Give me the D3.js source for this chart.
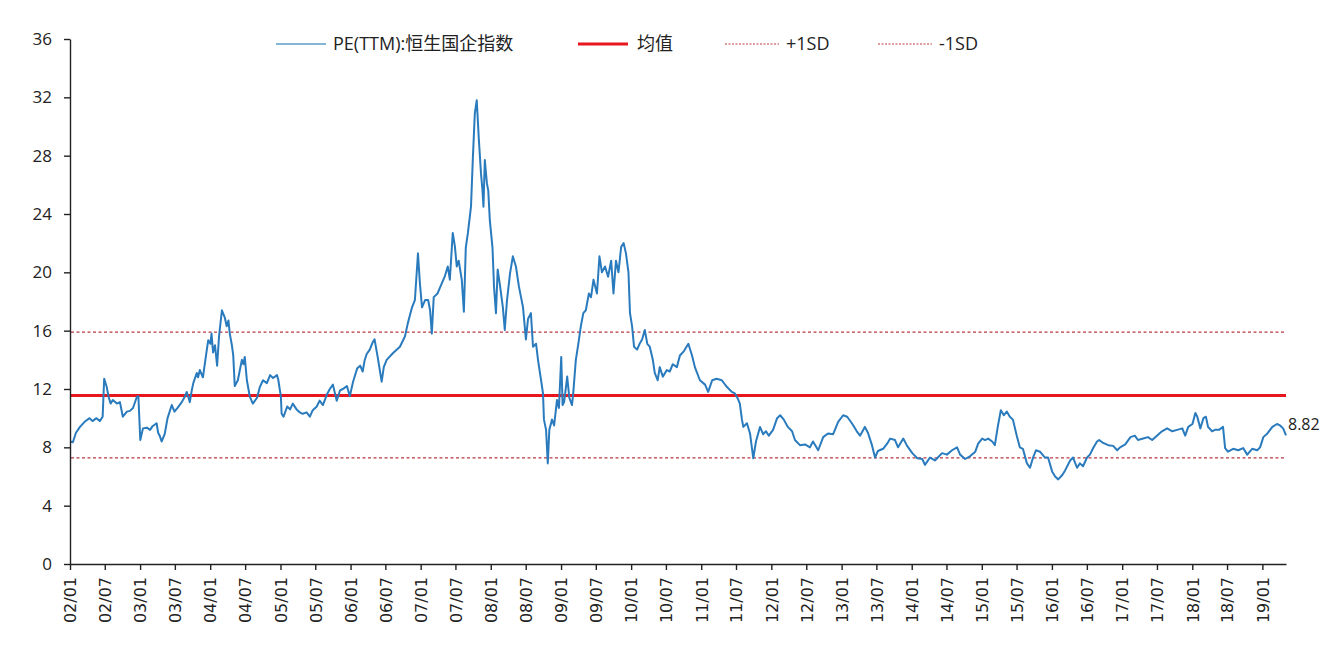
<!DOCTYPE html>
<html>
<head>
<meta charset="utf-8">
<script src="https://cdn.jsdelivr.net/npm/d3@7/dist/d3.min.js"></script>
<style>
  html, body { margin: 0; padding: 0; background: #fff; }
  svg { display: block; }
  text { font-family: "Open Sans", "Noto Sans CJK SC", sans-serif; fill: #222; }
  .x-tick text { font-family: "DejaVu Sans", sans-serif; }
</style>
</head>
<body>
<div id="chart"></div>
<script>
// PE(TTM) of the Hang Seng China Enterprises Index, 2002-01 .. 2019-05,
// read off the reference picture (one point per ~2 weeks, more at spikes).
const dates = [
  // 2002
  "2002-01-02","2002-01-16","2002-02-01","2002-02-22","2002-03-18","2002-04-13","2002-04-28","2002-05-19",
  "2002-06-05","2002-06-20","2002-06-28","2002-07-11","2002-07-21","2002-08-01","2002-08-12","2002-09-02",
  "2002-09-18","2002-10-03","2002-10-24","2002-11-09","2002-11-25","2002-12-15","2002-12-23",
  // 2003
  "2003-01-02","2003-01-16","2003-02-06","2003-02-22","2003-03-07","2003-03-28","2003-04-05","2003-04-13",
  "2003-04-23","2003-05-09","2003-05-24","2003-06-15","2003-06-29","2003-07-15","2003-08-06","2003-08-21",
  "2003-09-01","2003-09-09","2003-09-17","2003-09-27","2003-10-05","2003-10-23","2003-10-30","2003-11-08",
  "2003-11-24","2003-12-14","2003-12-22",
  // 2004
  "2004-01-02","2004-01-08","2004-01-16","2004-01-26","2004-02-06","2004-02-16","2004-03-02","2004-03-17",
  "2004-03-27","2004-04-05","2004-04-12","2004-04-23","2004-04-30","2004-05-08","2004-05-24","2004-06-14",
  "2004-06-22","2004-06-29","2004-07-10","2004-07-25","2004-08-10","2004-09-01","2004-09-16","2004-10-02",
  "2004-10-22","2004-11-08","2004-11-23","2004-12-14","2004-12-21",
  // 2005
  "2005-01-03","2005-01-07","2005-01-17","2005-02-05","2005-02-20","2005-03-06","2005-03-26","2005-04-11",
  "2005-04-27","2005-05-17","2005-06-03","2005-06-18","2005-07-09","2005-07-24","2005-08-10","2005-08-30",
  "2005-09-15","2005-10-01","2005-10-21","2005-11-07","2005-11-22","2005-12-13","2005-12-28",
  // 2006
  "2006-01-14","2006-02-04","2006-02-20","2006-03-05","2006-03-15","2006-03-26","2006-04-11","2006-04-26",
  "2006-05-06","2006-05-22","2006-06-12","2006-06-23","2006-07-08","2006-08-09","2006-09-15","2006-10-11",
  "2006-10-26","2006-11-17","2006-12-02","2006-12-18","2006-12-28",
  // 2007
  "2007-01-08","2007-01-24","2007-02-09","2007-02-19","2007-02-28","2007-03-10","2007-03-30","2007-04-21",
  "2007-05-06","2007-05-22","2007-06-02","2007-06-17","2007-06-28","2007-07-08","2007-07-18","2007-08-03",
  "2007-08-14","2007-08-24","2007-09-04","2007-09-20","2007-09-30","2007-10-10","2007-10-20","2007-10-31",
  "2007-11-11","2007-11-19","2007-11-24","2007-12-01","2007-12-12","2007-12-19","2007-12-27",
  // 2008
  "2008-01-10","2008-01-18","2008-01-28","2008-02-06","2008-02-19","2008-03-04","2008-03-14","2008-03-25",
  "2008-04-10","2008-04-25","2008-05-11","2008-05-27","2008-06-17","2008-07-02","2008-07-13","2008-07-28",
  "2008-08-08","2008-08-24","2008-09-03","2008-09-19","2008-09-29","2008-10-04","2008-10-15","2008-10-24",
  "2008-11-01","2008-11-15","2008-11-26","2008-12-11","2008-12-21",
  // 2009
  "2009-01-02","2009-01-09","2009-01-17","2009-02-02","2009-02-13","2009-02-27","2009-03-06","2009-03-19",
  "2009-04-01","2009-04-14","2009-04-27","2009-05-10","2009-05-26","2009-06-06","2009-06-19","2009-07-07",
  "2009-07-20","2009-08-02","2009-08-18","2009-09-03","2009-09-19","2009-10-01","2009-10-14","2009-10-27",
  "2009-11-10","2009-11-23","2009-12-05","2009-12-18","2009-12-26",
  // 2010
  "2010-01-06","2010-01-16","2010-02-01","2010-02-14","2010-02-27","2010-03-13","2010-03-26","2010-04-08",
  "2010-04-24","2010-05-04","2010-05-19","2010-05-30","2010-06-15","2010-07-06","2010-07-21","2010-08-06",
  "2010-08-27","2010-09-12","2010-10-03","2010-10-26","2010-11-14","2010-11-29","2010-12-25",
  // 2011
  "2011-01-21","2011-02-06","2011-02-27","2011-03-22","2011-04-18","2011-05-14","2011-06-09","2011-06-25",
  "2011-07-10","2011-07-21","2011-08-01","2011-08-08","2011-08-27","2011-09-12","2011-09-29","2011-10-13",
  "2011-11-03","2011-11-19","2011-12-04","2011-12-19",
  // 2012
  "2012-01-10","2012-01-31","2012-02-16","2012-03-06","2012-03-27","2012-04-18","2012-05-03","2012-05-29",
  "2012-06-24","2012-07-20","2012-08-05","2012-09-01","2012-09-27","2012-10-22","2012-11-18","2012-12-14",
  // 2013
  "2013-01-09","2013-01-30","2013-02-26","2013-03-21","2013-04-07","2013-05-02","2013-05-18","2013-06-08",
  "2013-06-24","2013-07-09","2013-08-05","2013-08-26","2013-09-11","2013-10-06","2013-10-22","2013-11-18",
  "2013-12-08",
  // 2014
  "2014-01-04","2014-01-30","2014-02-25","2014-03-11","2014-04-06","2014-05-02","2014-06-08","2014-07-03",
  "2014-07-30","2014-08-25","2014-09-10","2014-10-06","2014-11-02","2014-11-28","2014-12-13",
  // 2015
  "2015-01-03","2015-01-18","2015-02-03","2015-02-24","2015-03-10","2015-03-25","2015-04-10","2015-04-26",
  "2015-05-11","2015-05-27","2015-06-12","2015-07-02","2015-07-18","2015-08-03","2015-08-24","2015-09-09",
  "2015-09-25","2015-10-10","2015-10-31","2015-11-26","2015-12-12",
  // 2016
  "2016-01-02","2016-01-18","2016-02-03","2016-02-24","2016-03-09","2016-04-05","2016-04-20","2016-05-11",
  "2016-05-26","2016-06-11","2016-07-02","2016-07-17","2016-08-03","2016-08-23","2016-09-03","2016-09-24",
  "2016-10-20","2016-11-15","2016-12-06","2016-12-21",
  // 2017
  "2017-01-17","2017-02-13","2017-03-08","2017-03-24","2017-04-20","2017-05-15","2017-06-06","2017-07-01",
  "2017-07-27","2017-08-23","2017-09-19","2017-10-14","2017-11-10","2017-11-25","2017-12-11",
  // 2018
  "2018-01-02","2018-01-17","2018-01-27","2018-02-12","2018-02-28","2018-03-13","2018-03-24","2018-04-14",
  "2018-04-29","2018-05-20","2018-06-10","2018-06-21","2018-07-06","2018-08-02","2018-08-28","2018-09-23",
  "2018-10-14","2018-11-09","2018-12-05","2018-12-20",
  // 2019
  "2019-01-06","2019-01-27","2019-02-22","2019-03-18","2019-04-03","2019-04-19","2019-05-04"
];

const pe = [
  // 2002
  8.4, 8.35, 9.0, 9.4, 9.75, 10.0, 9.8, 10.0,
  9.8, 10.1, 12.7, 12.15, 11.45, 11.0, 11.25, 11.0,
  11.1, 10.1, 10.45, 10.5, 10.7, 11.45, 11.5,
  // 2003
  8.5, 9.3, 9.35, 9.2, 9.45, 9.65, 9.0, 8.8,
  8.4, 8.9, 10.0, 10.9, 10.45, 10.7, 11.1, 11.45,
  11.8, 11.45, 11.1, 11.9, 12.4, 13.1, 12.8, 13.3,
  12.8, 14.65, 15.35,
  // 2004
  15.1, 15.8, 14.5, 15.0, 13.6, 15.6, 17.4, 16.9,
  16.3, 16.7, 15.8, 15.0, 14.3, 12.2, 12.6, 14.0,
  13.7, 14.2, 12.6, 11.5, 11.0, 11.4, 12.15, 12.6,
  12.4, 12.95, 12.75, 12.95, 12.6,
  // 2005
  11.5, 10.3, 10.1, 10.8, 10.6, 11.0, 10.6, 10.4,
  10.3, 10.4, 10.1, 10.55, 10.8, 11.2, 10.9, 11.6,
  12.0, 12.3, 11.2, 11.9, 12.0, 12.2, 11.5,
  // 2006
  12.5, 13.4, 13.6, 13.2, 13.95, 14.4, 14.7, 15.2,
  15.4, 14.2, 12.5, 13.5, 14.0, 14.45, 14.9, 15.6,
  16.5, 17.6, 18.1, 21.3, 19.25,
  // 2007
  17.6, 18.1, 18.1, 17.4, 15.8, 18.3, 18.55, 19.25,
  19.7, 20.4, 19.5, 22.7, 21.8, 20.4, 20.8, 19.5,
  17.3, 21.7, 22.7, 24.5, 27.9, 30.9, 31.8, 29.1,
  26.8, 25.6, 24.5, 27.7, 26.1, 25.6, 23.6,
  // 2008
  21.7, 19.0, 17.2, 20.2, 19.0, 17.6, 16.05, 18.0,
  19.9, 21.1, 20.4, 19.0, 17.6, 15.4, 16.8, 17.2,
  14.9, 15.1, 14.0, 12.6, 11.7, 9.9, 9.2, 6.9,
  9.2, 9.9, 9.5, 11.25, 10.7,
  // 2009
  14.2, 10.9, 11.1, 12.85, 11.4, 10.9, 11.8, 14.0,
  15.1, 16.3, 17.2, 17.4, 18.55, 18.3, 19.5, 18.55,
  21.1, 20.0, 20.4, 19.7, 20.8, 18.55, 20.8, 20.0,
  21.75, 22.0, 21.3, 20.0, 17.2,
  // 2010
  16.3, 14.9, 14.7, 15.1, 15.4, 16.05, 15.1, 14.9,
  14.0, 13.1, 12.6, 13.5, 12.85, 13.3, 13.2, 13.7,
  13.5, 14.3, 14.6, 15.1, 14.3, 13.5, 12.6,
  // 2011
  12.3, 11.8, 12.6, 12.7, 12.6, 12.15, 11.8, 11.7,
  11.35, 11.0, 9.9, 9.4, 9.65, 8.95, 7.25, 8.4,
  9.4, 8.9, 9.1, 8.8,
  // 2012
  9.2, 10.0, 10.2, 9.9, 9.4, 9.1, 8.5, 8.15,
  8.2, 8.0, 8.4, 7.8, 8.7, 8.95, 8.9, 9.75,
  // 2013
  10.2, 10.1, 9.6, 9.1, 8.8, 9.4, 9.0, 8.15,
  7.3, 7.75, 7.9, 8.25, 8.6, 8.5, 8.0, 8.6,
  8.1,
  // 2014
  7.6, 7.25, 7.2, 6.8, 7.3, 7.1, 7.6, 7.5,
  7.8, 8.0, 7.5, 7.2, 7.4, 7.7, 8.25,
  // 2015
  8.6, 8.5, 8.6, 8.4, 8.15, 9.4, 10.55, 10.2,
  10.45, 10.1, 9.9, 8.8, 8.0, 7.9, 6.9, 6.6,
  7.3, 7.8, 7.7, 7.3, 7.3,
  // 2016
  6.35, 6.0, 5.8, 6.1, 6.4, 7.1, 7.3, 6.6,
  6.9, 6.7, 7.3, 7.5, 7.95, 8.4, 8.5, 8.3,
  8.15, 8.1, 7.8, 8.0,
  // 2017
  8.2, 8.7, 8.8, 8.5, 8.6, 8.7, 8.5, 8.8,
  9.1, 9.3, 9.1, 9.2, 9.3, 8.8, 9.4,
  // 2018
  9.6, 10.35, 10.1, 9.3, 10.0, 10.1, 9.4, 9.1,
  9.2, 9.2, 9.4, 7.95, 7.7, 7.9, 7.8, 7.95,
  7.5, 7.9, 7.8, 8.0,
  // 2019
  8.7, 8.95, 9.4, 9.6, 9.5, 9.3, 8.82
];

const peMean  = 11.55;
const peUpper = 15.9;   // mean + 1 SD
const peLower = 7.28;   // mean - 1 SD
const lastLabel = "8.82";

const yTicks = [0, 4, 8, 12, 16, 20, 24, 28, 32, 36];

const legendItems = [
  { key: "pe",    label: "PE(TTM):恒生国企指数" },
  { key: "mean",  label: "均值" },
  { key: "upper", label: "+1SD" },
  { key: "lower", label: "-1SD" }
];

const W = 1334, H = 670;
const margin = { top: 39, right: 48, bottom: 106, left: 70 };
const lineBlue = "#2a7bbd";
const meanRed = "#e8161d";
const sdRed = "#b83a42";

const parse = d3.timeParse("%Y-%m-%d");
const series = dates.map((d, i) => ({ date: parse(d), value: pe[i] }));

const svg = d3.select("#chart").append("svg")
  .attr("width", W).attr("height", H);

const x = d3.scaleTime()
  .domain([parse("2002-01-01"), series[series.length - 1].date])
  .range([margin.left, W - margin.right]);

const y = d3.scaleLinear()
  .domain([0, 36])
  .range([H - margin.bottom, margin.top]);

// reference lines
const refs = [
  { v: peUpper, color: sdRed,   width: 1.3, dash: "3,2.5" },
  { v: peLower, color: sdRed,   width: 1.3, dash: "3,2.5" },
  { v: peMean,  color: meanRed, width: 3,   dash: null }
];
svg.append("g").selectAll("line").data(refs).join("line")
  .attr("x1", x.range()[0] + 1).attr("x2", x.range()[1])
  .attr("y1", d => y(d.v)).attr("y2", d => y(d.v))
  .attr("stroke", d => d.color)
  .attr("stroke-width", d => d.width)
  .attr("stroke-dasharray", d => d.dash);

// PE line
const line = d3.line().x(d => x(d.date)).y(d => y(d.value)).curve(d3.curveLinear);
svg.append("path").datum(series)
  .attr("fill", "none")
  .attr("stroke", lineBlue)
  .attr("stroke-width", 2)
  .attr("stroke-linejoin", "round")
  .attr("d", line);

// y axis
const yAxis = svg.append("g")
  .attr("transform", `translate(${margin.left},0)`)
  .call(d3.axisLeft(y).tickValues(yTicks).tickSize(6).tickSizeOuter(0).tickPadding(12));
yAxis.select(".domain").attr("stroke", "#222").attr("stroke-width", 1.4);
yAxis.selectAll(".tick line").attr("stroke", "#222").attr("stroke-width", 1.4);
yAxis.selectAll(".tick text").attr("font-size", 17).attr("fill", "#222")
  .style("font-family", "'Open Sans', sans-serif");

// x axis: a tick every half year
const xTicks = d3.timeMonth.every(6).range(parse("2002-01-01"), parse("2019-02-01"));
const xAxis = svg.append("g")
  .attr("class", "x-tick")
  .attr("transform", `translate(0,${H - margin.bottom})`)
  .call(d3.axisBottom(x).tickValues(xTicks).tickFormat(d3.timeFormat("%y/%m"))
    .tickSize(6).tickSizeOuter(0));
xAxis.select(".domain").attr("stroke", "#222").attr("stroke-width", 1.4);
xAxis.selectAll(".tick line").attr("stroke", "#222").attr("stroke-width", 1.4);
xAxis.selectAll(".tick text")
  .attr("font-size", 16).attr("fill", "#222")
  .attr("text-anchor", "end")
  .attr("transform", "rotate(-90)")
  .attr("x", -13).attr("y", 0).attr("dy", "0.36em");

// last value label
const last = series[series.length - 1];
svg.append("text")
  .attr("x", x(last.date) + 2).attr("y", y(last.value) - 5)
  .attr("font-size", 16).attr("fill", "#222")
  .text(lastLabel);

// legend
const legendX = [276, 578, 725, 878];
const sampleLen = [50, 50, 54, 54];
const legendGap = [7, 9, 7, 7];
const legend = svg.append("g").attr("transform", "translate(0,44)");
legendItems.forEach((it, i) => {
  const g = legend.append("g").attr("transform", `translate(${legendX[i]},0)`);
  const ln = g.append("line").attr("x1", 0).attr("x2", sampleLen[i]).attr("y1", 0).attr("y2", 0);
  if (it.key === "pe") ln.attr("stroke", "#5a9cc6").attr("stroke-width", 1.5);
  else if (it.key === "mean") ln.attr("stroke", meanRed).attr("stroke-width", 3);
  else ln.attr("stroke", sdRed).attr("stroke-width", 1).attr("stroke-dasharray", "2,1.5");
  g.append("text")
    .attr("x", sampleLen[i] + legendGap[i]).attr("y", 0).attr("dy", "0.35em")
    .attr("font-size", 18)
    .text(it.label);
});
</script>
</body>
</html>
